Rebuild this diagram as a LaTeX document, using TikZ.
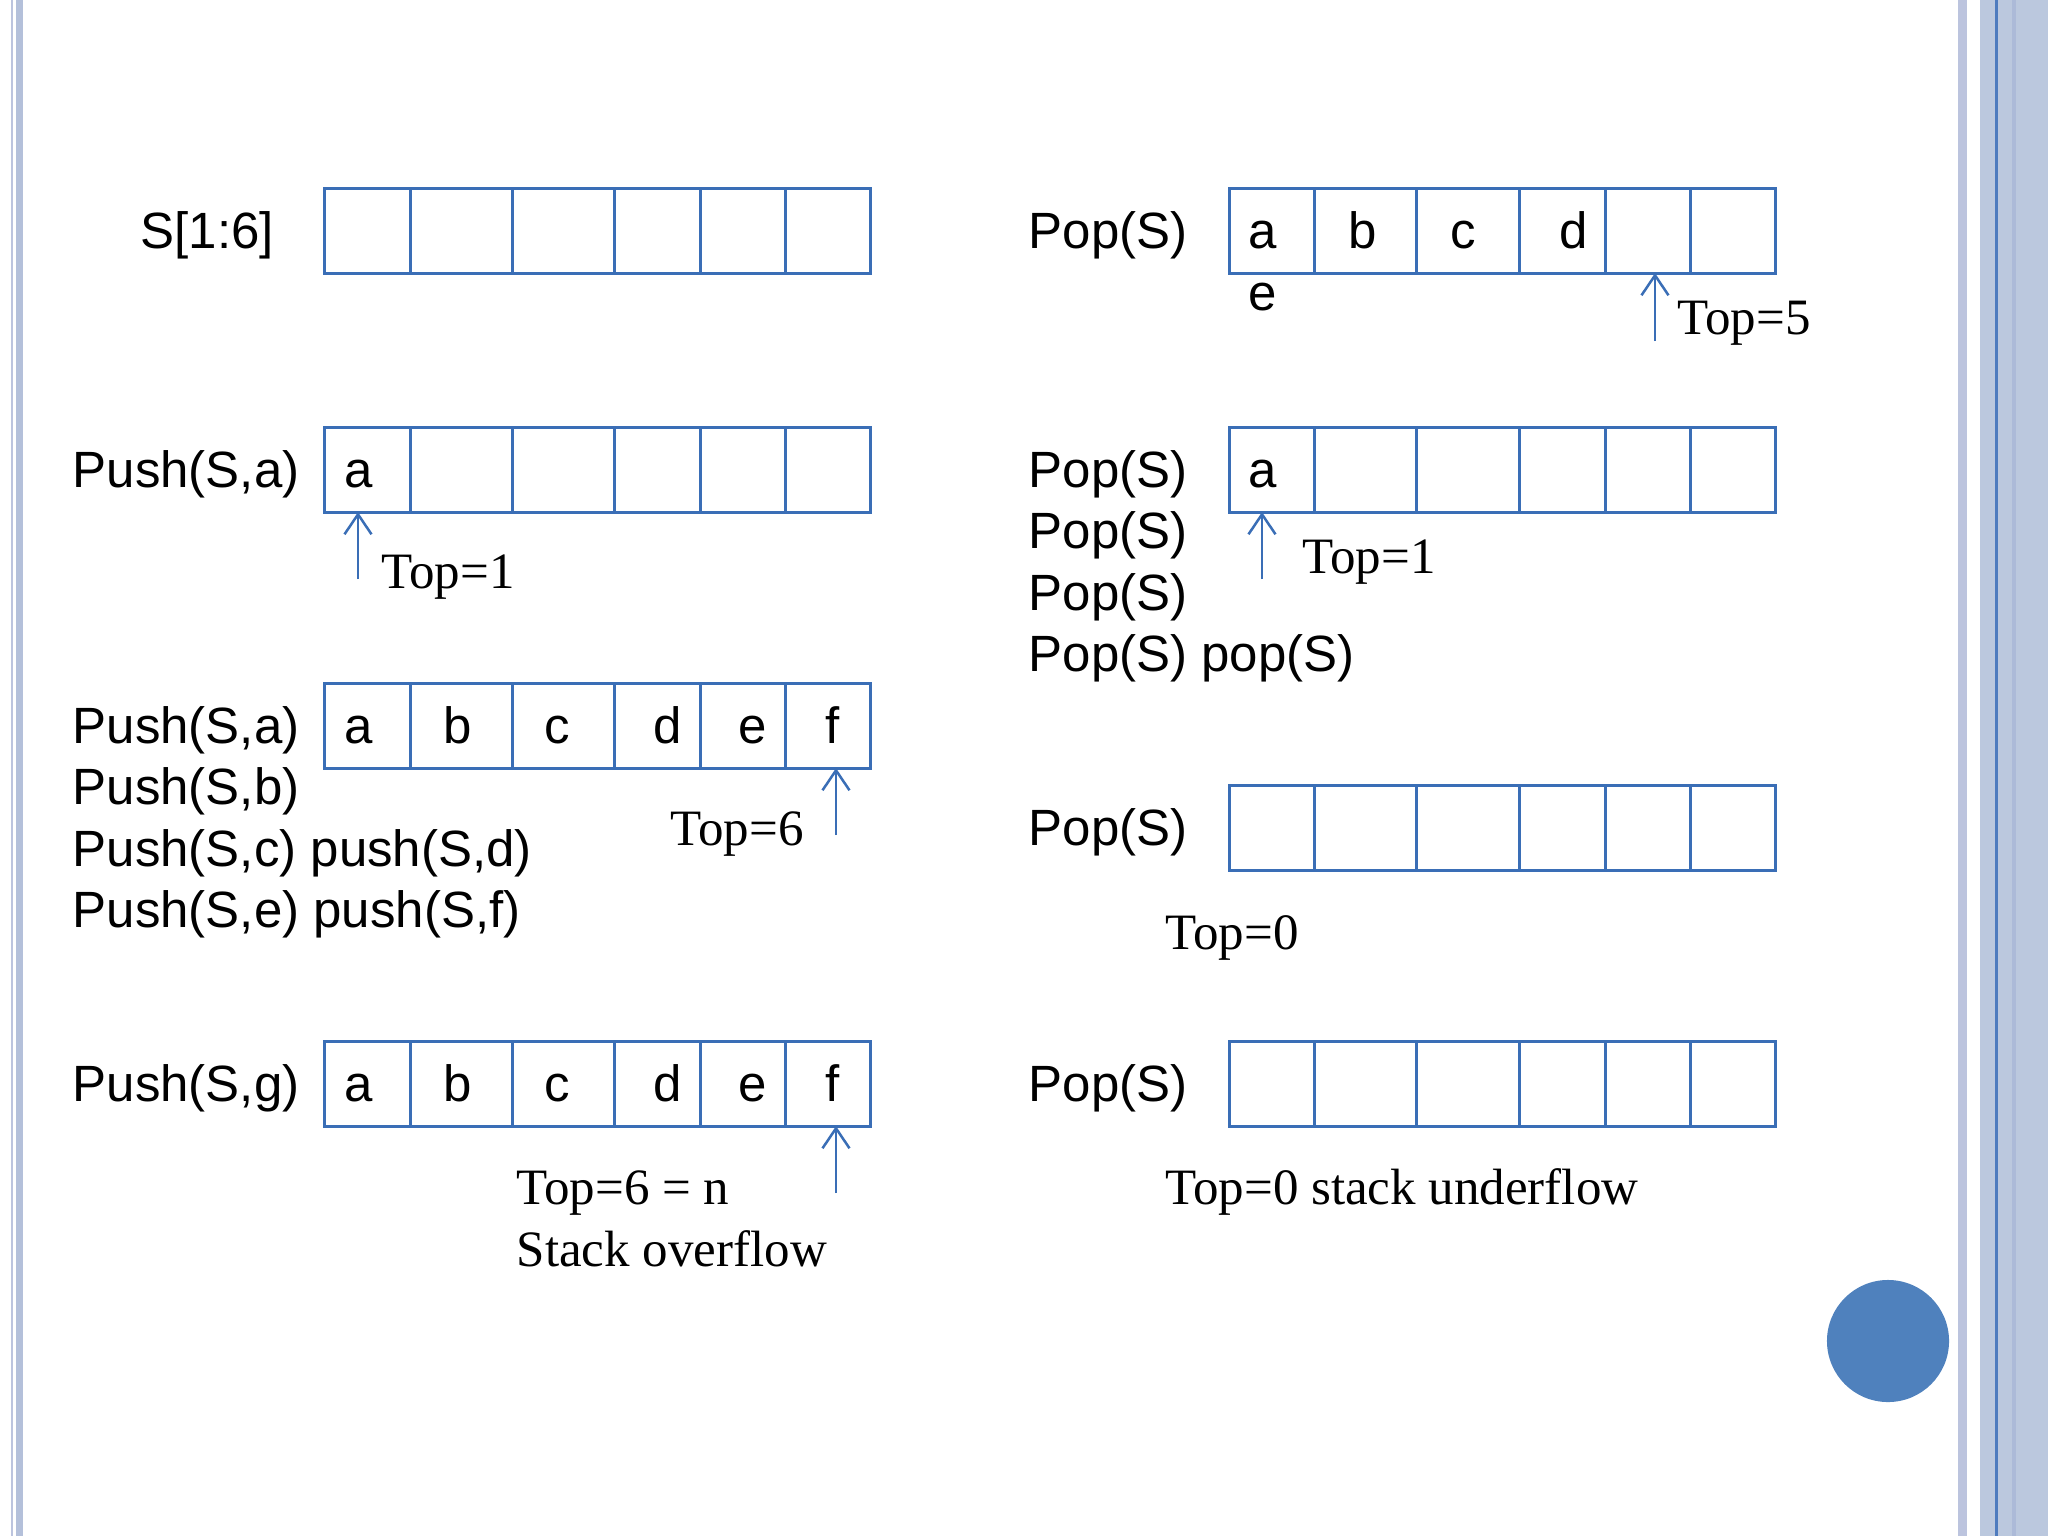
\documentclass[tikz,border=0pt]{standalone}
\usepackage{fontspec}
\setmainfont{Liberation Serif}
\newfontfamily\arialf{Liberation Sans}
\usetikzlibrary{arrows.meta}
\definecolor{cellblue}{RGB}{58,110,182}
\definecolor{dotblue}{RGB}{79,129,189}
\definecolor{bandA}{RGB}{180,192,218}
\definecolor{bandB}{RGB}{187,200,222}
\definecolor{bandC}{RGB}{188,196,222}
\definecolor{lineblue}{RGB}{78,123,190}
\definecolor{stripD}{RGB}{172,186,216}
\newcommand\drawcells[3]{%
  \foreach \xa/\xb [count=\i] in {#3} {%
    \pgfmathsetmacro\cw{(\xb-\xa)*0.01}%
    \node[cell, minimum width=\cw cm, anchor=north west] (#1\i) at (\xa,#2) {};
  }}
\begin{document}
\begin{tikzpicture}[x=0.01cm,y=-0.01cm,
  cell/.style={draw=cellblue, line width=0.03cm, rectangle, inner sep=0pt, outer sep=0pt, minimum height=0.85cm},
  sans/.style={font=\arialf\fontsize{14.5}{17}\selectfont, inner sep=0pt},
  serif/.style={font=\fontsize{14.5}{17}\selectfont, inner sep=0pt},
  lab/.style={sans, anchor=base west},
  let/.style={sans, anchor=base},
  tlab/.style={serif, anchor=base west},
  ptr/.style={draw=cellblue, line width=0.025cm, -{Straight Barb[length=0.2cm,width=0.27cm]}}]
\useasboundingbox (0,0) rectangle (2048,1536);
\fill[white] (0,0) rectangle (2048,1536);
% borders
\fill[bandC] (11,0) rectangle (13,1536);
\fill[bandA] (16,0) rectangle (23,1536);
\fill[bandC] (1958,0) rectangle (1967,1536);
\fill[bandB] (1980,0) rectangle (2048,1536);
\fill[lineblue] (1995,0) rectangle (1998,1536);
\fill[stripD] (2012,0) rectangle (2016,1536);

% arrays
\drawcells{La}{188}{324/410,410/512,512/614,614/700,700/785,785/870}
\drawcells{Lb}{427}{324/410,410/512,512/614,614/700,700/785,785/870}
\drawcells{Lc}{683}{324/410,410/512,512/614,614/700,700/785,785/870}
\drawcells{Ld}{1041}{324/410,410/512,512/614,614/700,700/785,785/870}
\drawcells{Ra}{188}{1229/1314,1314/1416,1416/1519,1519/1605,1605/1690,1690/1775}
\drawcells{Rb}{427}{1229/1314,1314/1416,1416/1519,1519/1605,1605/1690,1690/1775}
\drawcells{Rc}{785}{1229/1314,1314/1416,1416/1519,1519/1605,1605/1690,1690/1775}
\drawcells{Rd}{1041}{1229/1314,1314/1416,1416/1519,1519/1605,1605/1690,1690/1775}

% left labels
\node[lab] (s16) at (140,248) {S[1:6]};
\node[lab] (pb1) at (72,487) {Push(S,a)};
\node[lab] (pc1) at (72,743) {Push(S,a)};
\node[lab] (pc2) at (72,804) {Push(S,b)};
\node[lab] (pc3) at (72,866) {Push(S,c) push(S,d)};
\node[lab] (pc4) at (72,927) {Push(S,e) push(S,f)};
\node[lab] (pd1) at (72,1101) {Push(S,g)};

% right labels
\node[lab] (ra1) at (1028,248) {Pop(S)};
\node[lab] (rb1) at (1028,487) {Pop(S)};
\node[lab] (rb2) at (1028,548) {Pop(S)};
\node[lab] (rb3) at (1028,610) {Pop(S)};
\node[lab] (rb4) at (1028,671) {Pop(S) pop(S)};
\node[lab] (rc1) at (1028,845) {Pop(S)};
\node[lab] (rd1) at (1028,1101) {Pop(S)};

% letters
\node[let] (lba) at (359,487) {a};
\foreach \xx/\ch in {359/a,458/b,557/c,668/d,753/e,833/f} {
  \node[let] (lc\ch) at (\xx,743) {\ch};
  \node[let] (ld\ch) at (\xx,1101) {\ch};
}
\foreach \xx/\ch in {1263/a,1363/b,1463/c,1574/d} {
  \node[let] (ra\ch) at (\xx,248) {\ch};
}
\node[let] (rae) at (1263,310) {e};
\node[let] (rba) at (1263,487) {a};

% Top labels
\node[tlab] (t1) at (381,588) {Top=1};
\node[tlab] (t6) at (670,845) {Top=6};
\node[tlab] (t6n) at (516,1204) {Top=6 = n};
\node[tlab] (sov) at (516,1266) {Stack overflow};
\node[tlab] (t5) at (1677,334) {Top=5};
\node[tlab] (t1r) at (1302,573) {Top=1};
\node[tlab] (t0) at (1165,949) {Top=0};
\node[tlab] (t0u) at (1165,1204) {Top=0 stack underflow};

% pointers
\coordinate (pA) at (358,579);
\coordinate (pB) at (836,835);
\coordinate (pC) at (836,1193);
\coordinate (pD) at (1655,341);
\coordinate (pE) at (1262,579);
\draw[ptr] (pA) -- (pA |- Lb1.south);
\draw[ptr] (pB) -- (pB |- Lc6.south);
\draw[ptr] (pC) -- (pC |- Ld6.south);
\draw[ptr] (pD) -- (pD |- Ra5.south);
\draw[ptr] (pE) -- (pE |- Rb1.south);

% dot
\node[circle, fill=dotblue, minimum size=1.22cm, inner sep=0pt] (dot) at (1888,1341) {};
\end{tikzpicture}
\end{document}
